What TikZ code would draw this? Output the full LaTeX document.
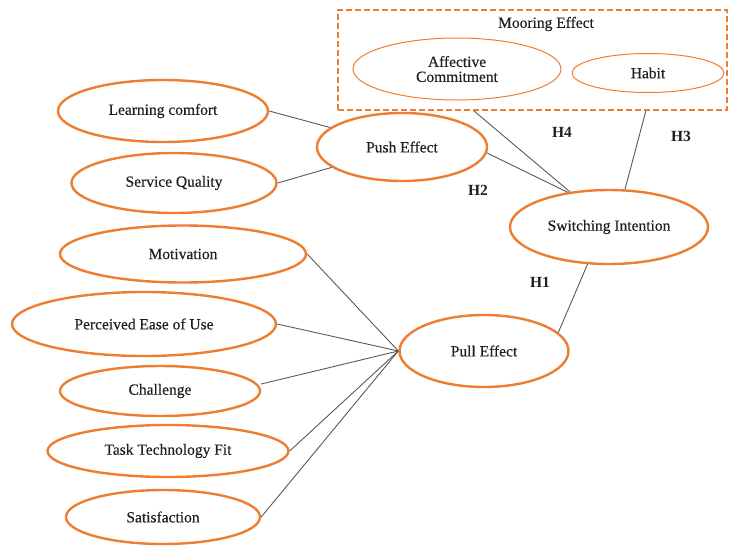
\documentclass[tikz,border=0pt]{standalone}
\usepackage{fontspec}
\setmainfont{Liberation Serif}
\newfontfamily\labelfont{Liberation Serif}[FakeBold=0.35]
\usetikzlibrary{shapes.geometric,calc}
\definecolor{ringorange}{HTML}{ED7D31}
\definecolor{linkgray}{HTML}{595959}
\definecolor{inkgray}{HTML}{1F1F1F}
\begin{document}
\begin{tikzpicture}[x=1pt,y=-1pt,
  every node/.style={font=\labelfont\fontsize{15.5}{17}\selectfont, text=inkgray},
  construct/.style={ellipse, draw=ringorange, line width=2.4pt, inner sep=0pt},
  subconstruct/.style={ellipse, draw=ringorange, line width=1pt, inner sep=0pt},
  groupbox/.style={rectangle, draw=ringorange, dash pattern=on 6pt off 3pt, line width=1.8pt, inner sep=0pt},
  link/.style={draw=linkgray, line width=0.9pt},
  hyp/.style={font=\rmfamily\fontsize{15.5}{17}\selectfont\bfseries, text=inkgray}]
\useasboundingbox (0,0) rectangle (730,546);

% mooring group
\node[groupbox, minimum width=389pt, minimum height=100pt] (moor) at (532.5,60) {};
\node (moorlbl) at (546,24) {Mooring Effect};
\node[subconstruct, minimum width=208pt, minimum height=62pt, align=center] (ac) at (457,69) {Affective\\[-2pt]Commitment};
\node[subconstruct, minimum width=152pt, minimum height=39pt] (hab) at (648,73) {Habit};

% push side
\node[construct, minimum width=210pt, minimum height=62pt] (lc) at (163,111) {Learning comfort};
\node[construct, minimum width=205pt, minimum height=60pt] (sq) at (174,183) {Service Quality};
\node[construct, minimum width=170pt, minimum height=68pt] (push) at (402,147) {Push Effect};

% outcome
\node[construct, minimum width=198pt, minimum height=74pt] (sw) at (609,227) {Switching Intention};

% pull side
\node[construct, minimum width=246pt, minimum height=57pt] (mot) at (183,254) {Motivation};
\node[construct, minimum width=264pt, minimum height=64pt] (peou) at (144,324) {Perceived Ease of Use};
\node[construct, minimum width=200pt, minimum height=50pt] (chal) at (160,391) {Challenge};
\node[construct, minimum width=241pt, minimum height=52pt] (ttf) at (168,451) {Task Technology Fit};
\node[construct, minimum width=194pt, minimum height=54pt] (sat) at (163,517) {Satisfaction};
\node[construct, minimum width=169pt, minimum height=72pt] (pull) at (484,351) {Pull Effect};

% connectors
\draw[link] (lc.east) -- (push);
\draw[link] (sq.east) -- (push);
\draw[link] (push.-4) -- (sw.140);
\draw[link] ($(moor.south west)!0.35!(moor.south east)$) -- (sw.138);
\draw[link] ($(moor.south west)!0.79!(moor.south east)$) -- (sw.67);
\draw[link] (pull.14) -- (sw.-120);
\draw[link] (mot.east) -- (pull.west);
\draw[link] (peou.east) -- (pull.west);
\draw[link] ([yshift=7pt]chal.east) -- (pull.west);
\draw[link] (ttf.east) -- (pull.west);
\draw[link] (sat.east) -- (pull.west);

% hypothesis labels
\node[hyp] (h4) at (562,132) {H4};
\node[hyp] (h3) at (681,136) {H3};
\node[hyp] (h2) at (478,190) {H2};
\node[hyp] (h1) at (540,282) {H1};
\end{tikzpicture}
\end{document}
